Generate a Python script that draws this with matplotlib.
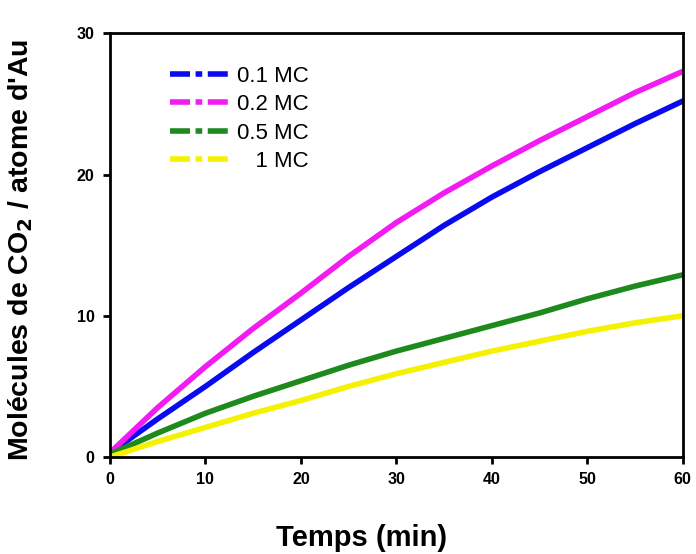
import numpy as np
import matplotlib
matplotlib.use('Agg')
import matplotlib.pyplot as plt
from matplotlib.lines import Line2D

plt.rcParams['font.family'] = ['Liberation Sans', 'DejaVu Sans']

# ---------------------------------------------------------------------------
# Data
# ---------------------------------------------------------------------------
t = [0, 5, 10, 15, 20, 25, 30, 35, 40, 45, 50, 55, 60]

mc_01 = [0.3, 2.7, 5.0, 7.4, 9.7, 12.0, 14.2, 16.4, 18.4, 20.2, 21.9, 23.6, 25.2]
mc_02 = [0.3, 3.5, 6.4, 9.1, 11.6, 14.2, 16.6, 18.7, 20.6, 22.4, 24.1, 25.8, 27.3]
mc_05 = [0.2, 1.7, 3.1, 4.3, 5.4, 6.5, 7.5, 8.4, 9.3, 10.2, 11.2, 12.1, 12.9]
mc_1  = [0.0, 1.1, 2.1, 3.1, 4.0, 5.0, 5.9, 6.7, 7.5, 8.2, 8.9, 9.5, 10.0]

labels = ['0.1 MC', '0.2 MC', '0.5 MC', '   1 MC']
series = [mc_01, mc_02, mc_05, mc_1]
colors = ['#0a0af0', '#f21cf2', '#1e8a1e', '#f4f200']

x_ticks = [0, 10, 20, 30, 40, 50, 60]
y_ticks = [0, 10, 20, 30]

# ---------------------------------------------------------------------------
fig = plt.figure(figsize=(6.96, 5.54), dpi=100)
ax = fig.add_axes([0.158, 0.175, 0.823, 0.765])

for ys, c in zip(series, colors):
    ax.plot(t, ys, color=c, linewidth=4.0, solid_capstyle='round',
            solid_joinstyle='round')

ax.set_xlim(0, 60)
ax.set_ylim(0, 30)
ax.set_xticks(x_ticks)
ax.set_yticks(y_ticks)
ax.tick_params(direction='out', length=5, width=2, labelsize=11.5, pad=6)
for lbl in ax.get_xticklabels() + ax.get_yticklabels():
    lbl.set_fontweight('bold')
for sp in ax.spines.values():
    sp.set_linewidth(2)

# axis titles placed like the reference (shifted from axes centre)
fig.text(362 / 696, 1 - 538 / 554, 'Temps (min)', fontsize=21,
         fontweight='bold', ha='center', va='center')
fig.text(21 / 696, 1 - 250 / 554, "Molécules de CO$_\\mathbf{2}$ / atome d'Au",
         fontsize=20.5, fontweight='bold', rotation=90, ha='center', va='center')

handles = [Line2D([0], [0], color=c, linewidth=4.0, linestyle=(0, (3.6, 1.0, 1.2, 1.0)))
           for c in colors]
ax.legend(handles, labels, loc='upper left', bbox_to_anchor=(0.105, 0.923),
          frameon=False, fontsize=16, handlelength=2.8, handletextpad=0.2,
          labelspacing=0.33, borderpad=0, borderaxespad=0)

fig.savefig('out.png', dpi=100)
